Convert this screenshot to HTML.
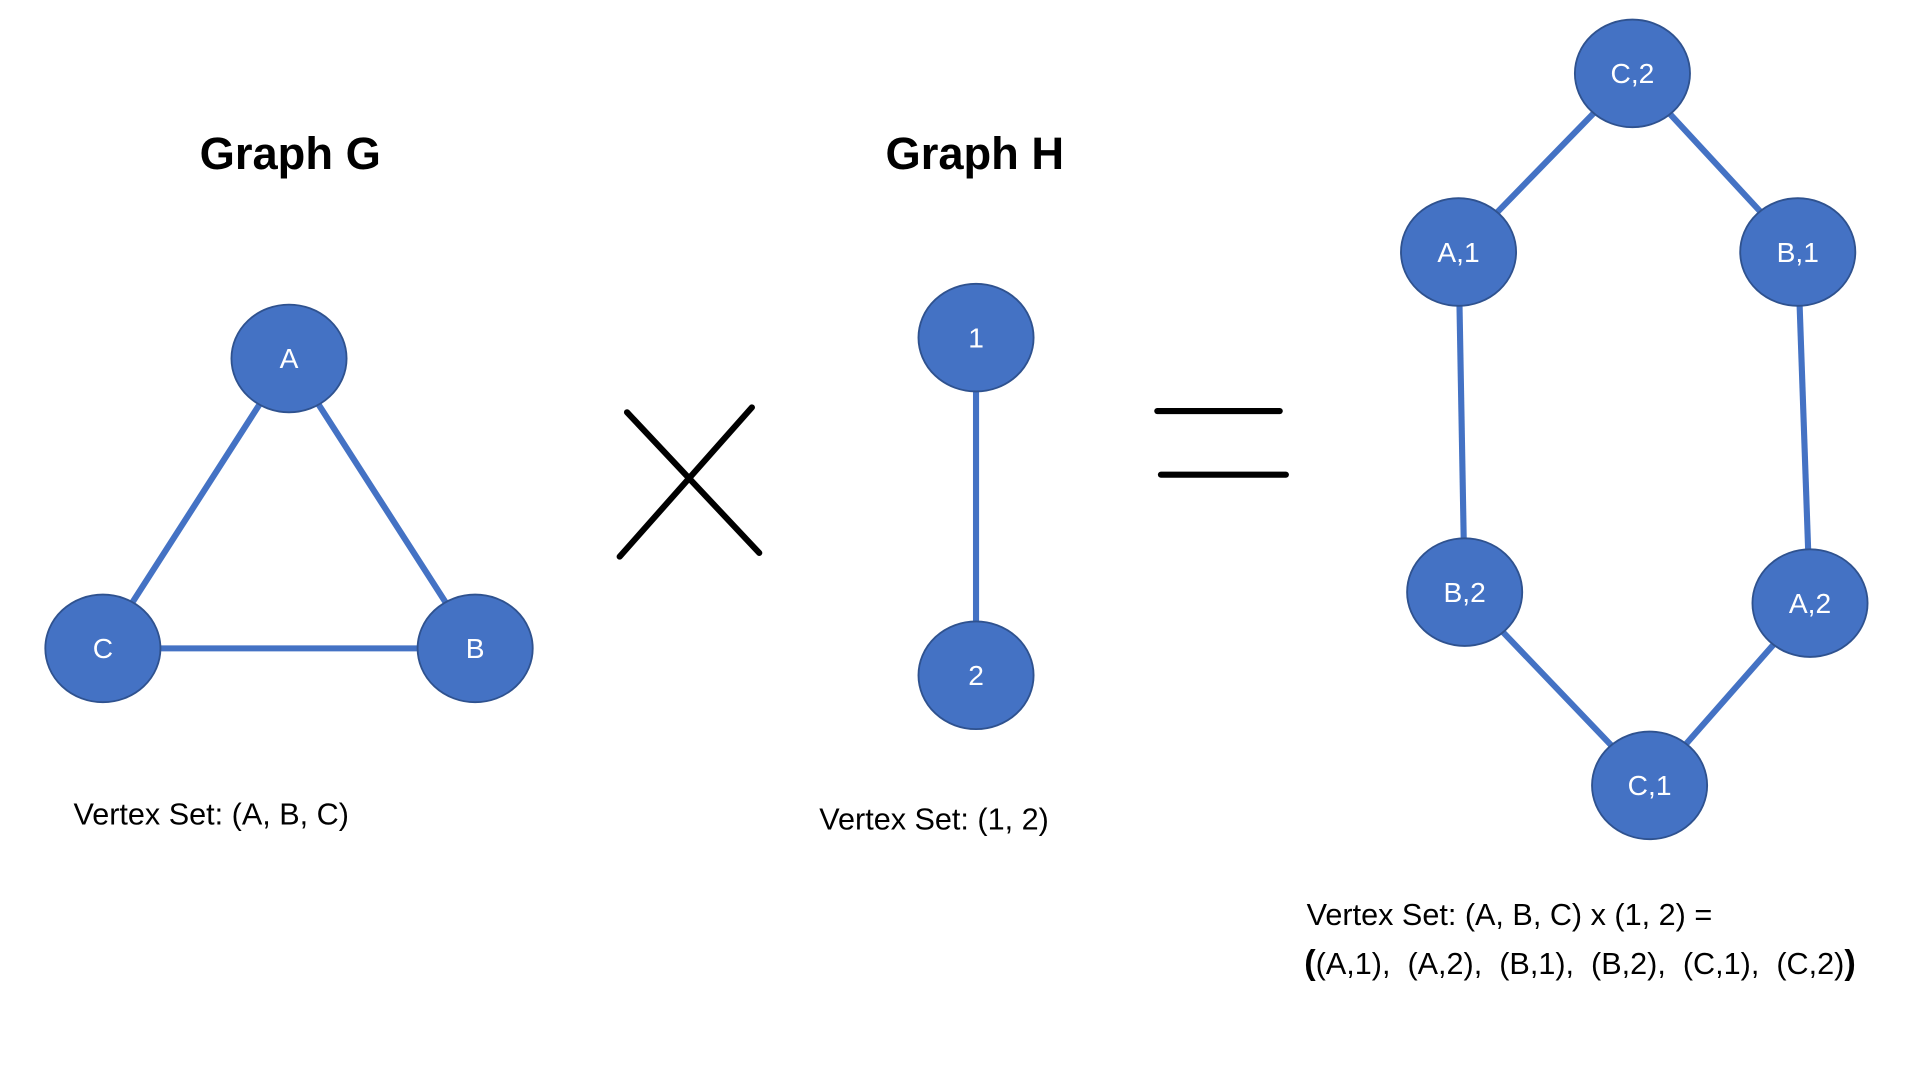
<!DOCTYPE html>
<html><head><meta charset="utf-8"><style>
html,body{margin:0;padding:0;background:#fff;width:1919px;height:1079px;overflow:hidden}
svg{display:block}
text{font-family:"Liberation Sans","DejaVu Sans",sans-serif;white-space:pre}
</style></head><body>
<svg id="chart" width="1919" height="1079" viewBox="0 0 1567 882" preserveAspectRatio="none" xmlns="http://www.w3.org/2000/svg">
<rect width="1567" height="882" fill="#fff"/>
<g id="edges"></g>
<g id="nodes"></g>
<text x="237" y="138" font-size="37" font-weight="bold" text-anchor="middle" fill="#000">Graph G</text>
<text x="796" y="138" font-size="37" font-weight="bold" text-anchor="middle" fill="#000">Graph H</text>
<g stroke="#000" stroke-width="5" stroke-linecap="round">
<line x1="512" y1="337" x2="620" y2="452"/><line x1="614" y1="333" x2="506" y2="455"/></g>
<g stroke="#000" stroke-width="5" stroke-linecap="round">
<line x1="945" y1="336" x2="1045" y2="336"/><line x1="948" y1="388" x2="1050" y2="388"/></g>
<text x="60" y="674" font-size="25" fill="#000">Vertex Set: (A, B, C)</text>
<text x="669" y="678" font-size="25" fill="#000">Vertex Set: (1, 2)</text>
<text x="1067" y="756" font-size="25" fill="#000">Vertex Set: (A, B, C) x (1, 2) =</text>
<text x="1065" y="796" font-size="25" fill="#000"><tspan font-weight="bold" font-size="28">(</tspan>(A,1),  (A,2),  (B,1),  (B,2),  (C,1),  (C,2)<tspan font-weight="bold" font-size="28">)</tspan></text>
</svg>
<script>
const nodeLabels = ["A","B","C","1","2","C,2","A,1","B,1","B,2","A,2","C,1"];
const nodeX = [236,388,84,797,797,1333,1191,1468,1196,1478,1347];
const nodeY = [293,530,530,276,552,60,206,206,484,493,642];
const edgeFrom = ["A","B","C","1","C,2","C,2","A,1","B,1","B,2","A,2"];
const edgeTo   = ["B","C","A","2","A,1","B,1","B,2","A,2","C,1","C,1"];
const NS="http://www.w3.org/2000/svg";
const eg=document.getElementById('edges'), ng=document.getElementById('nodes');
const idx=l=>nodeLabels.indexOf(l);
for(let i=0;i<edgeFrom.length;i++){
  const a=idx(edgeFrom[i]), b=idx(edgeTo[i]);
  const ln=document.createElementNS(NS,'line');
  ln.setAttribute('x1',nodeX[a]);ln.setAttribute('y1',nodeY[a]);
  ln.setAttribute('x2',nodeX[b]);ln.setAttribute('y2',nodeY[b]);
  ln.setAttribute('stroke','#4472C4');ln.setAttribute('stroke-width','5');
  
  
  eg.appendChild(ln);
}
for(let i=0;i<nodeLabels.length;i++){
  const g=document.createElementNS(NS,'g');
  
  
  const e=document.createElementNS(NS,'ellipse');
  e.setAttribute('cx',nodeX[i]);e.setAttribute('cy',nodeY[i]);
  e.setAttribute('rx',47);e.setAttribute('ry',44);
  e.setAttribute('fill','#4472C4');e.setAttribute('stroke','#2F528F');e.setAttribute('stroke-width','1.5');
  const t=document.createElementNS(NS,'text');
  t.setAttribute('x',nodeX[i]);t.setAttribute('y',nodeY[i]+8);
  t.setAttribute('text-anchor','middle');t.setAttribute('font-size','23');t.setAttribute('fill','#fff');
  t.textContent=nodeLabels[i];
  g.appendChild(e);g.appendChild(t);ng.appendChild(g);
}
</script>
</body></html>
